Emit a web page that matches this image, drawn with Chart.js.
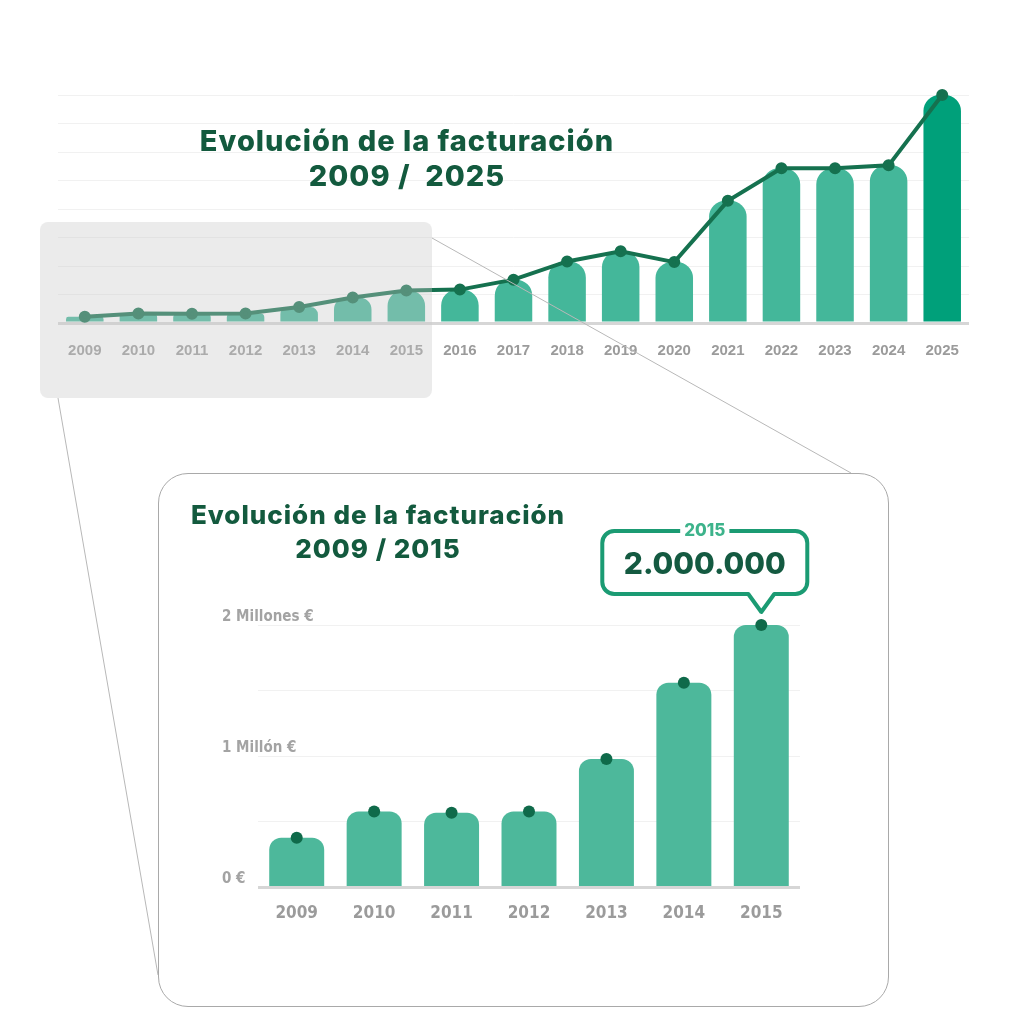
<!DOCTYPE html>
<html lang="es">
<head>
<meta charset="utf-8">
<title>Evolución de la facturación</title>
<script src="https://cdn.jsdelivr.net/npm/chart.js@4/dist/chart.umd.min.js"></script>
<style>
  html, body { margin: 0; padding: 0; background: #fff; }
  body { position: relative; width: 1024px; height: 1024px; overflow: hidden; }
  .abs { position: absolute; }
  #topWrap { left: 0; top: 60px; width: 1024px; height: 320px; }
  #zoomBox { left: 40px; top: 222px; width: 392px; height: 176px; border-radius: 8px;
             background: rgba(200, 200, 200, 0.36); }
  #links { left: 0; top: 0; }
  #panel { left: 158px; top: 473px; width: 729px; height: 532px; border: 1.5px solid #a9a9a9;
           border-radius: 30px; background: #fff; }
  #bottomWrap { left: 158px; top: 473px; width: 731px; height: 534px; }
  .title { text-align: center; color: #135a3e; font-family: Inter, Lato, sans-serif;
           font-weight: 800; white-space: pre; letter-spacing: 1px; }
  #topTitle { left: 107px; width: 600px; top: 123px; font-size: 29px; line-height: 35px; }
  #bottomTitle { left: 128px; width: 500px; top: 498px; font-size: 26px; line-height: 34px; }
</style>
</head>
<body>
<div id="topWrap" class="abs"><canvas id="topChart"></canvas></div>
<div id="topTitle" class="abs title">Evolución de la facturación
2009 /  2025</div>
<svg id="links" class="abs" width="1024" height="1024">
  <line x1="432" y1="238" x2="851" y2="473" stroke="#b8b8b8" stroke-width="1"/>
  <line x1="58" y1="398" x2="158" y2="975" stroke="#b8b8b8" stroke-width="1"/>
</svg>
<div id="zoomBox" class="abs"></div>
<div id="panel" class="abs"></div>
<div id="bottomWrap" class="abs"><canvas id="bottomChart"></canvas></div>
<div id="bottomTitle" class="abs title">Evolución de la facturación
2009 / 2015</div>

<script>
// Facturación anual, en millones de euros
const years = ['2009', '2010', '2011', '2012', '2013', '2014', '2015', '2016', '2017',
               '2018', '2019', '2020', '2021', '2022', '2023', '2024', '2025'];
const revenue = [0.38, 0.58, 0.57, 0.58, 0.98, 1.56, 2.0, 2.05, 2.66,
                 3.78, 4.4, 3.74, 7.5, 9.5, 9.5, 9.68, 14.0];

// Tramo ampliado 2009 / 2015
const zoomYears = years.slice(0, 7);
const zoomRevenue = revenue.slice(0, 7);
const zoomTickLabels = ['0 €', '', '1 Millón €', '', '2 Millones €'];

const barGreen = '#44b79a';
const lastBarGreen = '#00a07a';
const lineGreen = '#15714f';
const dotGreen = '#0f6a4a';
const gray = '#9b9b9b';
const narrowFont = '"Liberation Sans Narrow", "DejaVu Sans Condensed", sans-serif';

const fmt = v => Math.round(v * 1e6).toString().replace(/\B(?=(\d{3})+(?!\d))/g, '.');

// Top chart: whole period
new Chart(document.getElementById('topChart').getContext('2d'), {
  data: {
    labels: years,
    datasets: [{
      type: 'line',
      data: revenue,
      borderColor: lineGreen,
      backgroundColor: lineGreen,
      borderWidth: 4,
      pointRadius: 4,
      pointHoverRadius: 4,
      tension: 0,
      clip: false,
      order: 0
    }, {
      type: 'bar',
      data: revenue,
      backgroundColor: years.map((y, i) => i === years.length - 1 ? lastBarGreen : barGreen),
      borderRadius: 16,
      barPercentage: 0.7,
      categoryPercentage: 1,
      order: 1
    }]
  },
  options: {
    responsive: true,
    maintainAspectRatio: false,
    animation: false,
    layout: { padding: { left: 58, right: 55, top: 35, bottom: 1 } },
    plugins: { legend: { display: false }, tooltip: { enabled: false } },
    scales: {
      x: {
        grid: { display: false, drawTicks: false },
        border: { display: false },
        ticks: { color: gray, padding: 19, font: { family: '"Liberation Sans", Arial, sans-serif', size: 15, weight: 'bold' } }
      },
      y: {
        min: 0,
        max: 14,
        ticks: { display: false, stepSize: 1.75 },
        border: { display: false },
        grid: {
          drawTicks: false,
          color: ctx => ctx.tick.value === 0 ? '#d6d6d6' : '#f1f1f1',
          lineWidth: ctx => ctx.tick.value === 0 ? 3 : 1
        }
      }
    }
  }
});

// Callout over the last point of the zoomed chart
const calloutPlugin = {
  id: 'callout',
  afterDraw(chart) {
    const ctx = chart.ctx;
    const pt = chart.getDatasetMeta(1).data[zoomRevenue.length - 1];
    const px = pt.x, py = pt.y;
    const right = px + 46, left = right - 205;
    const bottom = py - 31, top = bottom - 63;
    const tipY = py - 13, r = 12;
    ctx.save();
    ctx.beginPath();
    ctx.moveTo(left + r, top);
    ctx.lineTo(right - r, top);
    ctx.arcTo(right, top, right, top + r, r);
    ctx.lineTo(right, bottom - r);
    ctx.arcTo(right, bottom, right - r, bottom, r);
    ctx.lineTo(px + 13, bottom);
    ctx.lineTo(px, tipY);
    ctx.lineTo(px - 13, bottom);
    ctx.lineTo(left + r, bottom);
    ctx.arcTo(left, bottom, left, bottom - r, r);
    ctx.lineTo(left, top + r);
    ctx.arcTo(left, top, left + r, top, r);
    ctx.closePath();
    ctx.fillStyle = '#fff';
    ctx.fill();
    ctx.lineWidth = 4;
    ctx.lineJoin = 'round';
    ctx.strokeStyle = '#1b9b73';
    ctx.stroke();

    const cx = (left + right) / 2;
    ctx.font = '800 17px Inter, Lato, sans-serif';
    const yearLabel = zoomYears[zoomYears.length - 1];
    const w = ctx.measureText(yearLabel).width + 8;
    ctx.fillStyle = '#fff';
    ctx.fillRect(cx - w / 2, top - 5, w, 10);
    ctx.fillStyle = '#3db38b';
    ctx.textAlign = 'center';
    ctx.textBaseline = 'middle';
    ctx.fillText(yearLabel, cx, top);

    ctx.font = '800 30px Inter, Lato, sans-serif';
    ctx.fillStyle = '#145a41';
    ctx.fillText(fmt(zoomRevenue[zoomRevenue.length - 1]), cx, top + 34);
    ctx.restore();
  }
};

// Bottom chart: 2009 / 2015
new Chart(document.getElementById('bottomChart').getContext('2d'), {
  data: {
    labels: zoomYears,
    datasets: [{
      type: 'bar',
      data: zoomRevenue,
      backgroundColor: '#4db89b',
      borderRadius: 12,
      barPercentage: 0.71,
      categoryPercentage: 1,
      order: 1
    }, {
      type: 'line',
      data: zoomRevenue,
      showLine: false,
      pointRadius: 6,
      pointHoverRadius: 6,
      pointBackgroundColor: dotGreen,
      pointBorderWidth: 0,
      clip: false,
      order: 0
    }]
  },
  options: {
    responsive: true,
    maintainAspectRatio: false,
    animation: false,
    layout: { padding: { left: 100, right: 89, top: 152, bottom: 67 } },
    plugins: { legend: { display: false }, tooltip: { enabled: false } },
    scales: {
      x: {
        grid: { display: false, drawTicks: false },
        border: { display: false },
        ticks: { color: gray, padding: 16, font: { family: narrowFont, size: 17, weight: 'bold' } }
      },
      y: {
        min: 0,
        max: 2,
        border: { display: false },
        // labels sit above the gridlines, starting left of the plot and running into it
        afterFit: scale => { scale.width = 0; },
        grid: {
          drawTicks: false,
          color: ctx => ctx.tick.value === 0 ? '#d6d6d6' : '#f1f1f1',
          lineWidth: ctx => ctx.tick.value === 0 ? 3 : 1
        },
        ticks: {
          stepSize: 0.5,
          mirror: true,
          padding: -36,
          labelOffset: -8,
          color: '#a3a3a3',
          font: { family: narrowFont, size: 15, weight: 'bold' },
          callback: (v, i) => zoomTickLabels[i]
        }
      }
    }
  },
  plugins: [calloutPlugin]
});
</script>
</body>
</html>
